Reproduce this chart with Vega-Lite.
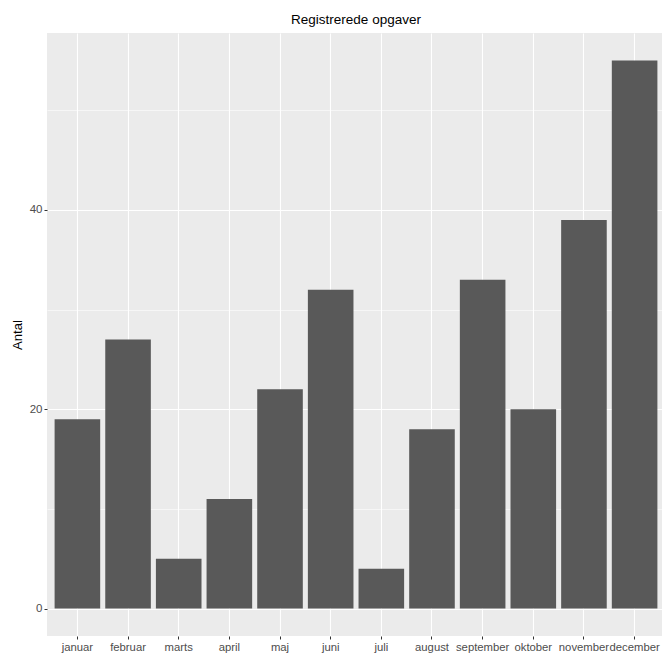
{
  "$schema": "https://vega.github.io/schema/vega-lite/v6.json",
  "autosize": "none",
  "padding": {"left": 47, "top": 33, "right": 0, "bottom": 18},
  "width": 618,
  "height": 603,
  "background": "white",
  "title": {"text": "Registrerede opgaver", "font": "Liberation Sans", "fontSize": 13.5, "fontWeight": "normal", "color": "black", "anchor": "middle", "offset": 7},
  "config": {
    "view": {"fill": "#EBEBEB", "stroke": null},
    "axis": {"labelFont": "Liberation Sans", "titleFont": "Liberation Sans"}
  },
  "data": {"values": [
    {"month": "januar", "antal": 19},
    {"month": "februar", "antal": 27},
    {"month": "marts", "antal": 5},
    {"month": "april", "antal": 11},
    {"month": "maj", "antal": 22},
    {"month": "juni", "antal": 32},
    {"month": "juli", "antal": 4},
    {"month": "august", "antal": 18},
    {"month": "september", "antal": 33},
    {"month": "oktober", "antal": 20},
    {"month": "november", "antal": 39},
    {"month": "december", "antal": 55}
  ]},
  "encoding": {
    "x": {"field": "month", "type": "nominal", "sort": null,
      "scale": {"paddingInner": 0.1, "paddingOuter": 0.15},
      "axis": {"title": null, "labelAngle": 0, "labelColor": "#4D4D4D", "labelFontSize": 11.3, "labelPadding": 2, "labelOverlap": false, "labelBound": false, "tickColor": "#333333", "tickSize": 3, "domain": false, "grid": true, "gridColor": "white", "gridWidth": 1.1}
    },
    "y": {"field": "antal", "type": "quantitative",
      "scale": {"domain": [-2.75, 57.75], "nice": false, "zero": false}
    }
  },
  "resolve": {"axis": {"y": "independent"}},
  "layer": [
    {
      "mark": {"type": "bar", "opacity": 0},
      "encoding": {
        "y": {"field": "antal", "type": "quantitative",
          "axis": {"orient": "left", "values": [10, 30, 50], "labels": false, "ticks": false, "domain": false, "title": null, "grid": true, "gridColor": "white", "gridWidth": 0.55}
        }
      }
    },
    {
      "mark": {"type": "bar", "color": "#595959"},
      "encoding": {
        "y": {"field": "antal", "type": "quantitative",
          "axis": {"orient": "left", "values": [0, 20, 40], "title": "Antal", "titleFontSize": 13.2, "titleFontWeight": "normal", "titleColor": "black", "titlePadding": 5, "labelColor": "#4D4D4D", "labelFontSize": 11.5, "labelPadding": 2, "tickColor": "#333333", "tickSize": 3, "domain": false, "grid": true, "gridColor": "white", "gridWidth": 1.1}
        }
      }
    }
  ]
}
